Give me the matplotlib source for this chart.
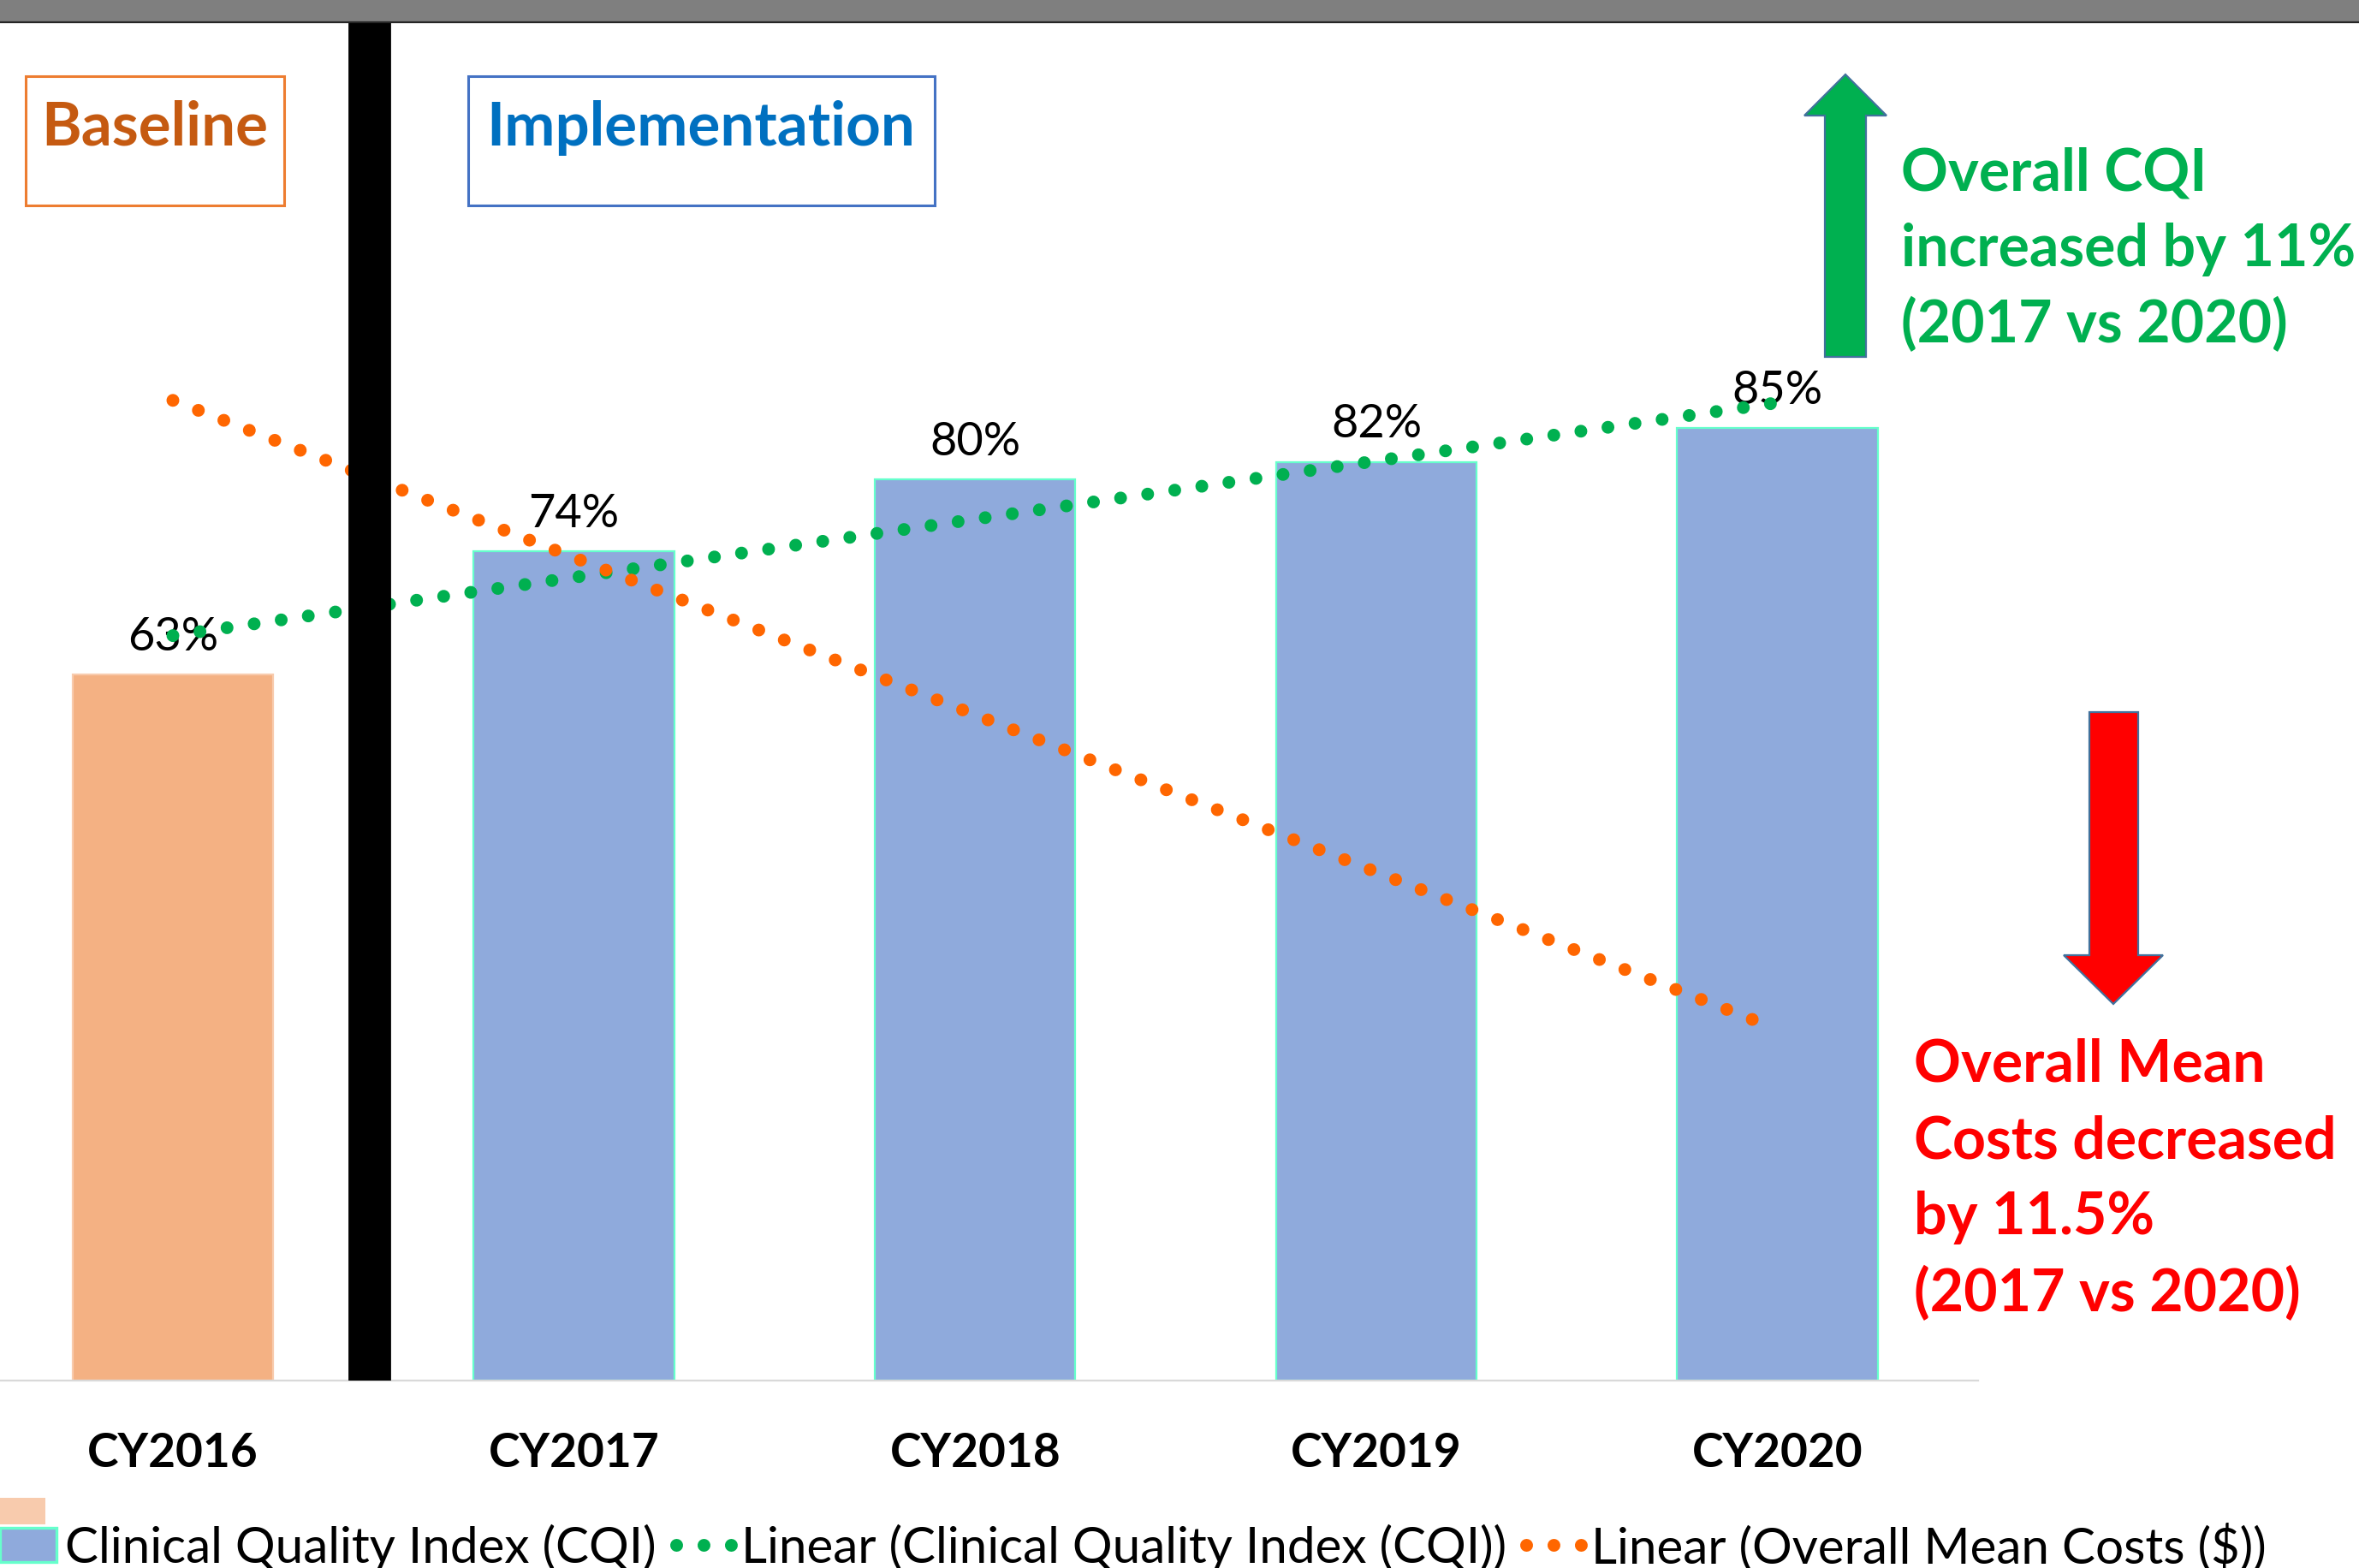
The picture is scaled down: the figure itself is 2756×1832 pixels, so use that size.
import numpy as np
import matplotlib
matplotlib.use("Agg")
import matplotlib.pyplot as plt
from matplotlib.patches import Rectangle, Polygon, Patch
from matplotlib.lines import Line2D

# ---------------- data ----------------
categories = ["CY2016", "CY2017", "CY2018", "CY2019", "CY2020"]
cqi = [63, 74, 80.4, 82, 85]
cqi_labels = ["63%", "74%", "80%", "82%", "85%"]
# Overall mean costs ($) - the series itself is hidden, only its linear trend is shown (estimated)
mean_costs = [10400, 10050, 9600, 9150, 8900]

legend_labels = ["Clinical Quality Index (CQI)",
                 "Linear (Clinical Quality Index (CQI))",
                 "Linear (Overall Mean Costs ($))"]

# ---------------- figure ----------------
W, H, DPI = 2756, 1833, 200
plt.rcParams["font.family"] = ["Lato", "DejaVu Sans"]
fig = plt.figure(figsize=(W / DPI, H / DPI), dpi=DPI, facecolor="white")


def fx(px):
    return px / W


def fy(py):
    return 1 - py / H


AX_TOP, AX_BOT, AX_RIGHT = 25, 1613.5, 2311
ax = fig.add_axes([0, fy(AX_BOT), fx(AX_RIGHT), fy(AX_TOP) - fy(AX_BOT)])
ax.set_xlim(-0.431, 4.5)
ax.set_ylim(0, 121.4)

x = np.arange(len(categories))
bar_colors = ["#F4B183"] + ["#8FAADC"] * 4
bar_edges = ["#F8CBAD"] + ["#66FFCC"] * 4
ax.bar(x, cqi, width=0.5, color=bar_colors, edgecolor=bar_edges, linewidth=0.8, zorder=2)

# data labels
for xi, v, lab in zip(x, cqi, cqi_labels):
    ax.annotate(lab, (xi, v), xytext=(0, 10.5), textcoords="offset points",
                ha="center", va="baseline", fontsize=19.5, color="black", zorder=3)

# linear trend of CQI
dot_style = dict(linestyle=(0, (0.001, 2.13)), dash_capstyle="round", linewidth=5.4)
p_cqi = np.polyfit(x, cqi, 1)
ax.plot(x, np.polyval(p_cqi, x), color="#00B050", zorder=4, **dot_style)

# axes cosmetics
for s in ["top", "left", "right"]:
    ax.spines[s].set_visible(False)
ax.spines["bottom"].set_color("#D9D9D9")
ax.spines["bottom"].set_linewidth(0.8)
ax.set_yticks([])
ax.set_xticks(x, categories, fontweight="bold", fontsize=19.8)
ax.tick_params(axis="x", length=0, pad=21.5)

# secondary (hidden) axis for costs trend
ax2 = ax.twinx()
ax2.set_ylim(7970, 11342)
ax2.set_axis_off()
p_cost = np.polyfit(x, mean_costs, 1)
ax2.plot(x, np.polyval(p_cost, x), color="#FF6600", zorder=4, **dot_style)

# black divider between baseline and implementation
ax2.axvspan(0.439, 0.540, color="black", zorder=10)

# ---------------- decorations ----------------
fig.patches.append(Rectangle((0, fy(26)), 1, 1 - fy(26), transform=fig.transFigure,
                             facecolor="#7F7F7F", edgecolor="none", zorder=20))
fig.lines.append(Line2D([0, 1], [fy(26.5), fy(26.5)], transform=fig.transFigure,
                        color="#262626", linewidth=0.8, zorder=21))

# boxes
fig.patches.append(Rectangle((fx(30), fy(241)), fx(332) - fx(30), fy(90) - fy(241),
                             transform=fig.transFigure, fill=False,
                             edgecolor="#ED7D31", linewidth=1.1, zorder=5))
fig.patches.append(Rectangle((fx(547), fy(241)), fx(1092) - fx(547), fy(90) - fy(241),
                             transform=fig.transFigure, fill=False,
                             edgecolor="#4472C4", linewidth=1.1, zorder=5))
fig.text(fx(181), fy(170), "Baseline", color="#C55A11", fontweight="bold",
         fontsize=25.5, ha="center", va="baseline")
fig.text(fx(819), fy(170), "Implementation", color="#0070C0", fontweight="bold",
         fontsize=25.5, ha="center", va="baseline")


def arrow(pts, color):
    fig.patches.append(Polygon([(fx(a), fy(b)) for a, b in pts], closed=True,
                               transform=fig.transFigure, facecolor=color,
                               edgecolor="#41719C", linewidth=0.8, zorder=6))


arrow([(2132, 418), (2132, 136), (2108, 136), (2156, 88), (2204, 136),
       (2180, 136), (2180, 418)], "#00B050")
arrow([(2441, 833), (2498, 833), (2498, 1117), (2527, 1117), (2469, 1174),
       (2411, 1117), (2441, 1117)], "#FF0000")

green_lines = ["Overall CQI", "increased by 11%", "(2017 vs 2020)"]
for line, by in zip(green_lines, [222, 311, 400]):
    fig.text(fx(2221), fy(by), line, color="#00B050", fontweight="bold",
             fontsize=24.5, ha="left", va="baseline")

red_lines = ["Overall Mean", "Costs decreased", "by 11.5%", "(2017 vs 2020)"]
for line, by in zip(red_lines, [1264, 1354, 1442, 1532]):
    fig.text(fx(2236), fy(by), line, color="#FF0000", fontweight="bold",
             fontsize=24.5, ha="left", va="baseline")

# ---------------- legend ----------------
fig.patches.append(Rectangle((0, fy(1782)), fx(53), fy(1751) - fy(1782),
                             transform=fig.transFigure, facecolor="#F8CBAD",
                             edgecolor="none", zorder=5))
handles = [Patch(facecolor="#8FAADC", edgecolor="#66FFCC", linewidth=1.2),
           Line2D([], [], color="#00B050", **dot_style),
           Line2D([], [], color="#FF6600", **dot_style)]
leg = ax.legend(handles, legend_labels, loc="center left",
                bbox_to_anchor=(0, fy(1808)), bbox_transform=fig.transFigure,
                ncol=3, frameon=False, fontsize=21, borderpad=0, borderaxespad=0,
                handlelength=1.14, handleheight=0.68, handletextpad=0.16,
                columnspacing=0.4)

fig.savefig("out.png", dpi=DPI, facecolor="white")
